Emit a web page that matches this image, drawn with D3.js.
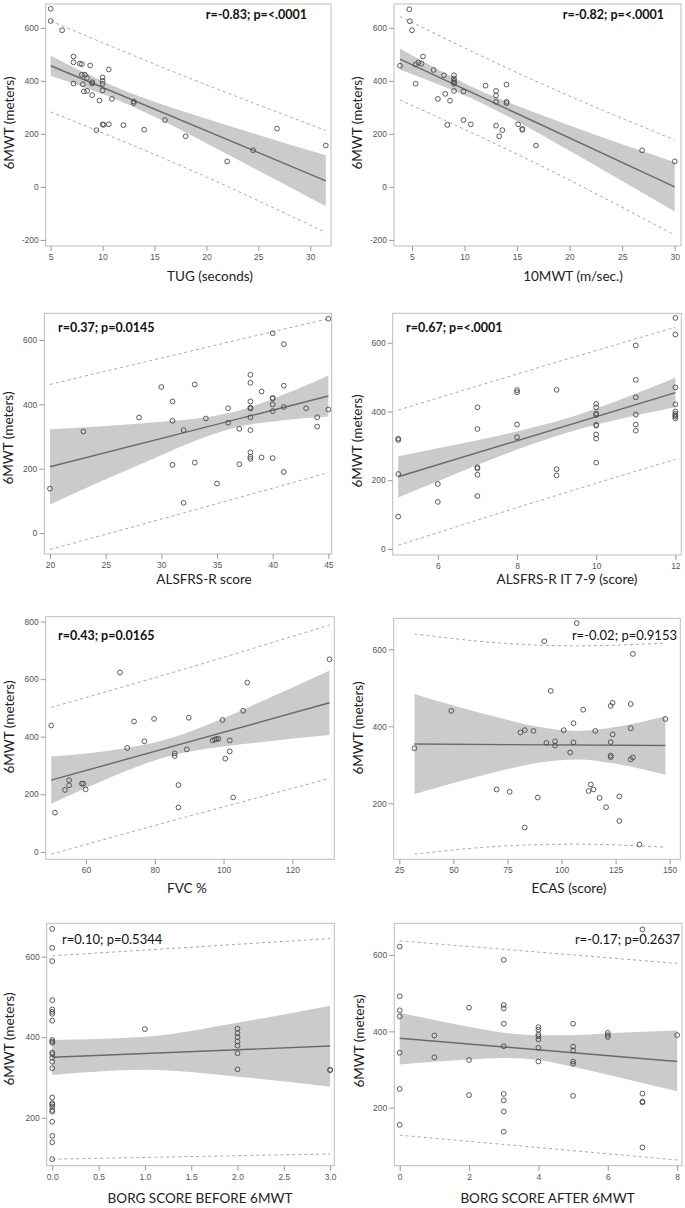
<!DOCTYPE html>
<html>
<head>
<meta charset="utf-8">
<script src="https://cdn.jsdelivr.net/npm/d3@7"></script>
<style>
  body { margin: 0; background: #fff; }
  .tick text { font-family: "Liberation Sans", Arial, sans-serif; font-size: 8.5px; fill: #555; }
  .tick line { stroke: #9a9a9a; }
</style>
</head>
<body>
<script>
// ---- data (6MWT in meters on every y axis) ----

// TUG (seconds)
const tugX = [5.0,5.0,6.1,7.2,7.2,7.2,7.8,8.0,8.0,8.1,8.2,8.3,8.5,8.5,8.8,9.0,9.0,9.0,9.4,9.7,10.0,10.0,10.0,10.0,10.0,10.1,10.6,10.6,10.9,12.0,13.0,13.0,14.0,16.0,18.0,22.0,24.5,26.8,31.5];
const tugY = [672,626,591,492,470,390,465,463,423,387,360,423,411,362,458,395,390,346,214,326,413,400,389,364,236,234,443,236,332,233,322,316,216,252,191,96,138,220,156];
const tugFit = [[5, 457], [31.5, 23]];
const tugBandX = [5, 8, 11.5, 15, 20, 25, 31.5];
const tugBandLo = [419, 379, 327, 265, 165, 62, -73];
const tugBandHi = [495, 436, 373, 321, 257, 196, 119];
const tugPredX = [5, 18, 31.5];
const tugPredLo = [283, 72, -172];
const tugPredHi = [626, 416, 213];

// 10MWT
const mwtX = [4.75,4.8,5.0,3.86,5.35,5.6,5.9,6.05,5.35,7.06,8.05,7.47,8.17,8.36,8.62,9.0,9.0,9.0,9.0,9.0,9.0,9.9,9.9,10.6,12.0,13.0,13.0,13.0,13.0,13.3,13.6,14.0,14.0,14.0,15.1,15.5,15.5,16.8,26.9,30.0];
const mwtY = [670,625,591,457,462,469,465,492,389,441,421,332,351,234,325,421,409,400,394,389,362,360,252,236,382,362,345,321,231,191,214,386,321,316,236,219,215,156,138,96];
const mwtFit = [[3.86, 482], [30, 0]];
const mwtBandX = [3.86, 7, 11, 15, 20, 25, 30];
const mwtBandLo = [442, 395, 328, 248, 136, 22, -93];
const mwtBandHi = [522, 453, 372, 306, 232, 161, 93];
const mwtPredX = [3.86, 17, 30];
const mwtPredLo = [328, 85, -182];
const mwtPredHi = [643, 395, 177];

// ALSFRS-R score
const alsX = [20,23,28,30,31,31,31,32,32,33,33,34,35,36,36,37,37,38,38,38,38,38,38,38,38,38,38,39,39,40,40,40,40,40,40,41,41,41,41,43,44,44,45,45];
const alsY = [138,316,359,454,409,349,212,320,94,462,219,356,154,388,343,324,214,492,467,409,390,387,360,320,251,237,231,440,235,621,420,418,400,379,233,587,458,392,190,388,360,331,666,384];
const alsFit = [[20, 206], [45, 426]];
const alsBandX = [20, 25, 30, 34, 37, 41, 45];
const alsBandLo = [89, 167, 242, 299, 331, 351, 362];
const alsBandHi = [323, 333, 346, 360, 381, 431, 490];
const alsPredX = [20, 36, 45];
const alsPredLo = [-51, 101, 188];
const alsPredHi = [462, 593, 666];

// ALSFRS-R items 7-9
const itX = [5,5,5,5,6,6,7,7,7,7,7,7,8,8,8,8,9,9,9,10,10,10,10,10,10,10,10,10,11,11,11,11,11,11,12,12,12,12,12,12,12,12,12];
const itY = [321,317,218,94,189,137,412,349,238,234,216,154,462,456,362,325,463,232,214,422,412,394,390,361,359,333,321,251,592,492,441,391,362,344,672,624,470,421,400,393,389,385,380];
const itFit = [[5, 210], [12, 455]];
const itBandX = [5, 6, 7, 8, 9.2, 10.5, 12];
const itBandLo = [150, 197, 244, 289, 336, 375, 412];
const itBandHi = [270, 293, 316, 342, 378, 430, 498];
const itPredX = [5, 8.5, 12];
const itPredLo = [11, 138, 261];
const itPredHi = [404, 526, 645];

// FVC %
const fvcX = [49.9,51,53.9,55.1,55.1,58.8,59.2,59.9,69.9,72,74,77,79.8,85.8,85.8,86.9,86.9,89.3,89.9,96.8,97.5,98,98.5,99.7,100.5,101.8,101.8,102.8,105.7,106.9,130.8];
const fvcY = [439,136,215,249,231,237,237,217,623,361,453,384,462,342,333,232,154,356,466,387,390,392,393,458,324,387,349,189,490,588,669];
const fvcFit = [[49.9, 249], [130.8, 518]];
const fvcBandX = [49.9, 60, 70, 83, 95, 110, 130.8];
const fvcBandLo = [167, 222, 273, 329, 358, 380, 406];
const fvcBandHi = [331, 342, 357, 389, 440, 517, 630];
const fvcPredX = [49.9, 90, 130.8];
const fvcPredLo = [-8, 124, 255];
const fvcPredHi = [502, 640, 788];

// ECAS (score)
const ecasX = [32,49,70,76,81,83,83,87,89,92,93,95,97,97,101,104,105.5,105.5,107,110,112.5,113.5,114.7,115.6,117.6,120.6,122.7,122.7,122.7,122.7,123.6,123.6,126.7,126.7,132,132,132,133,133,136,148];
const ecasY = [343,440,236,230,384,390,137,388,215,621,357,492,361,350,390,332,408,358,668,443,232,249,236,388,214,190,453,359,324,320,461,379,218,154,458,395,314,319,588,93,419];
const ecasFit = [[32, 354], [148, 350]];
const ecasBandX = [32, 50, 70, 90, 107, 125, 148];
const ecasBandLo = [224, 253, 282, 306, 314, 303, 274];
const ecasBandHi = [484, 454, 424, 398, 388, 398, 426];
const ecasPredX = [32, 70, 107, 148];
const ecasPredLo = [68, 88, 94, 86];
const ecasPredHi = [640, 617, 609, 616];

// Borg score before 6MWT
const bbX = [0,0,0,0,0,0,0,0,0,0,0,0,0,0,0,0,0,0,0,0,0,0,0,0,0,0,1,2,2,2,2,2,2,2,3,3];
const bbY = [669,622,589,492,469,463,458,441,393,389,386,362,358,349,339,323,250,236,233,228,219,215,190,155,139,97,420,421,410,400,389,379,360,320,319,318];
const bbFit = [[0, 350], [3, 378]];
const bbBandX = [0, 1, 2, 3];
const bbBandLo = [306, 319, 302, 277];
const bbBandHi = [393, 401, 436, 478];
const bbPredX = [0, 3];
const bbPredLo = [97, 110];
const bbPredHi = [602, 645];

// Borg score after 6MWT
const baX = [0,0,0,0,0,0,0,1,1,2,2,2,3,3,3,3,3,3,3,3,3,4,4,4,4,4,4,4,5,5,5,5,5,5,6,6,6,7,7,7,7,7,8];
const baY = [622,492,455,439,344,249,155,389,332,462,325,233,587,469,460,420,361,236,219,190,137,411,404,392,387,379,357,321,420,360,350,321,315,231,396,390,385,667,237,216,214,96,390];
const baFit = [[0, 382], [8, 321]];
const baBandX = [0, 1, 2, 3, 4, 5, 6, 8];
const baBandLo = [313, 320, 326, 330, 325, 307, 286, 243];
const baBandHi = [449, 430, 412, 396, 390, 390, 395, 402];
const baPredX = [0, 8];
const baPredLo = [128, 63];
const baPredHi = [637, 578];

// axis titles, stats and ticks
const xTitles = ["TUG (seconds)", "10MWT (m/sec.)", "ALSFRS-R score", "ALSFRS-R IT 7-9 (score)",
                 "FVC %", "ECAS (score)", "BORG SCORE BEFORE 6MWT", "BORG SCORE AFTER 6MWT"];
const yTitle = "6MWT (meters)";
const stats = ["r=-0.83; p=<.0001", "r=-0.82; p=<.0001", "r=0.37; p=0.0145", "r=0.67; p=<.0001",
               "r=0.43; p=0.0165", "r=-0.02; p=0.9153", "r=0.10; p=0.5344", "r=-0.17; p=0.2637"];
const xTickVals = [[5,10,15,20,25,30], [5,10,15,20,25,30], [20,25,30,35,40,45], [6,8,10,12],
                   [60,80,100,120], [25,50,75,100,125,150], [0,0.5,1,1.5,2,2.5,3], [0,2,4,6,8]];
const yTickVals = [[-200,0,200,400,600], [-200,0,200,400,600], [0,200,400,600], [0,200,400,600],
                   [0,200,400,600,800], [200,400,600], [200,400,600], [200,400,600]];
const xDomains = [[4.52,32.0], [3.29,30.6], [19.49,45.3], [4.86,12.15], [48.3,132.2], [22.4,154.9], [-0.06,3.045], [-0.156,8.14]];
const yDomains = [[-223,690], [-223,690], [-65,683], [-17.5,685.5], [-26,817], [54.6,680.5], [80.8,682.8], [48,683]];

// ---- layout (pixels) ----
const layout = [
  {x0:45.7, x1:331,   y0:4,     y1:246,    xl:210,   xlY:281,  yl:9,   ylY:123,  st:[307,19,"end",true]},
  {x0:394,  x1:681,   y0:4,     y1:246,    xl:573,   xlY:281,  yl:357, ylY:123,  st:[664,19,"end",true]},
  {x0:44.3, x1:331.7, y0:313.3, y1:554,    xl:204,   xlY:584,  yl:8.5, ylY:438,  st:[58,332,"start",true]},
  {x0:392.7,x1:681.3, y0:313.3, y1:555,    xl:567,   xlY:584,  yl:357, ylY:441,  st:[406,332,"start",true]},
  {x0:45.7, x1:334.3, y0:616.7, y1:859.3,  xl:187,   xlY:893,  yl:9,   ylY:727,  st:[58,640,"start",true]},
  {x0:393.7,x1:680.3, y0:618.3, y1:859.3,  xl:569,   xlY:893,  yl:358, ylY:728,  st:[677,640,"end",false]},
  {x0:46.7, x1:334.3, y0:923.3, y1:1165.7, xl:200,   xlY:1203, yl:9,   ylY:1039, st:[62,944,"start",false]},
  {x0:394.3,x1:682,   y0:923.3, y1:1165.7, xl:547.5, xlY:1203, yl:359, ylY:1041, st:[680,944,"end",false]}
];

const series = [
  [tugX, tugY, tugFit, tugBandX, tugBandLo, tugBandHi, tugPredX, tugPredLo, tugPredHi],
  [mwtX, mwtY, mwtFit, mwtBandX, mwtBandLo, mwtBandHi, mwtPredX, mwtPredLo, mwtPredHi],
  [alsX, alsY, alsFit, alsBandX, alsBandLo, alsBandHi, alsPredX, alsPredLo, alsPredHi],
  [itX, itY, itFit, itBandX, itBandLo, itBandHi, itPredX, itPredLo, itPredHi],
  [fvcX, fvcY, fvcFit, fvcBandX, fvcBandLo, fvcBandHi, fvcPredX, fvcPredLo, fvcPredHi],
  [ecasX, ecasY, ecasFit, ecasBandX, ecasBandLo, ecasBandHi, ecasPredX, ecasPredLo, ecasPredHi],
  [bbX, bbY, bbFit, bbBandX, bbBandLo, bbBandHi, bbPredX, bbPredLo, bbPredHi],
  [baX, baY, baFit, baBandX, baBandLo, baBandHi, baPredX, baPredLo, baPredHi]
];

const font = "Lato, 'Open Sans', sans-serif";
const svg = d3.select("body").append("svg").attr("width", 685).attr("height", 1208);

series.forEach((s, i) => {
  const L = layout[i];
  const [xs, ys, fit, bX, bLo, bHi, pX, pLo, pHi] = s;
  const x = d3.scaleLinear().domain(xDomains[i]).range([L.x0, L.x1]);
  const y = d3.scaleLinear().domain(yDomains[i]).range([L.y1, L.y0]);
  const g = svg.append("g");

  g.append("clipPath").attr("id", "clip" + i)
    .append("rect").attr("x", L.x0).attr("y", L.y0).attr("width", L.x1 - L.x0).attr("height", L.y1 - L.y0);
  const inner = g.append("g").attr("clip-path", `url(#clip${i})`);

  // confidence band
  const band = bX.map((v, k) => [v, bLo[k], bHi[k]]);
  inner.append("path")
    .attr("d", d3.area().x(d => x(d[0])).y0(d => y(d[1])).y1(d => y(d[2])).curve(d3.curveMonotoneX)(band))
    .attr("fill", "#cbcbcb");

  // fit line
  inner.append("path")
    .attr("d", d3.line().x(d => x(d[0])).y(d => y(d[1]))(fit))
    .attr("fill", "none").attr("stroke", "#6a6a6a").attr("stroke-width", 1.4);

  // prediction limits
  [pLo, pHi].forEach(arr => {
    inner.append("path")
      .attr("d", d3.line().x(d => x(d[0])).y(d => y(d[1])).curve(d3.curveMonotoneX)(pX.map((v, k) => [v, arr[k]])))
      .attr("fill", "none").attr("stroke", "#a9a9a9").attr("stroke-width", 1)
      .attr("stroke-dasharray", "3,3");
  });

  // points
  g.selectAll(null).data(xs.map((v, k) => [v, ys[k]])).enter().append("circle")
    .attr("cx", d => x(d[0])).attr("cy", d => y(d[1])).attr("r", 2.4)
    .attr("fill", "none").attr("stroke", "#4a4a4a").attr("stroke-width", 0.9);

  // frame
  g.append("rect").attr("x", L.x0).attr("y", L.y0).attr("width", L.x1 - L.x0).attr("height", L.y1 - L.y0)
    .attr("fill", "none").attr("stroke", "#bdbdbd").attr("stroke-width", 1);

  // axes
  const xFmt = i === 6 ? (d => d.toFixed(1)) : (d => String(d));
  g.append("g").attr("transform", `translate(0,${L.y1})`)
    .call(d3.axisBottom(x).tickValues(xTickVals[i]).tickSize(5).tickPadding(3).tickFormat(xFmt))
    .call(a => a.select(".domain").remove());
  g.append("g").attr("transform", `translate(${L.x0},0)`)
    .call(d3.axisLeft(y).tickValues(yTickVals[i]).tickSize(5).tickPadding(2).tickFormat(d => String(d)))
    .call(a => a.select(".domain").remove());

  // titles
  g.append("text").attr("x", L.xl).attr("y", L.xlY).attr("text-anchor", "middle")
    .style("font-family", font).style("font-size", "13.5px").attr("fill", "#222").text(xTitles[i]);
  g.append("text").attr("transform", `translate(${L.yl},${L.ylY}) rotate(-90)`)
    .attr("text-anchor", "middle").attr("dy", "0.35em")
    .style("font-family", font).style("font-size", "13.5px").attr("fill", "#222").text(yTitle);

  // statistic
  g.append("text").attr("x", L.st[0]).attr("y", L.st[1]).attr("text-anchor", L.st[2])
    .style("font-family", font).style("font-size", L.st[3] ? "12.5px" : "13px")
    .style("font-weight", L.st[3] ? "bold" : "normal").attr("fill", "#111").text(stats[i]);
});
</script>
</body>
</html>
